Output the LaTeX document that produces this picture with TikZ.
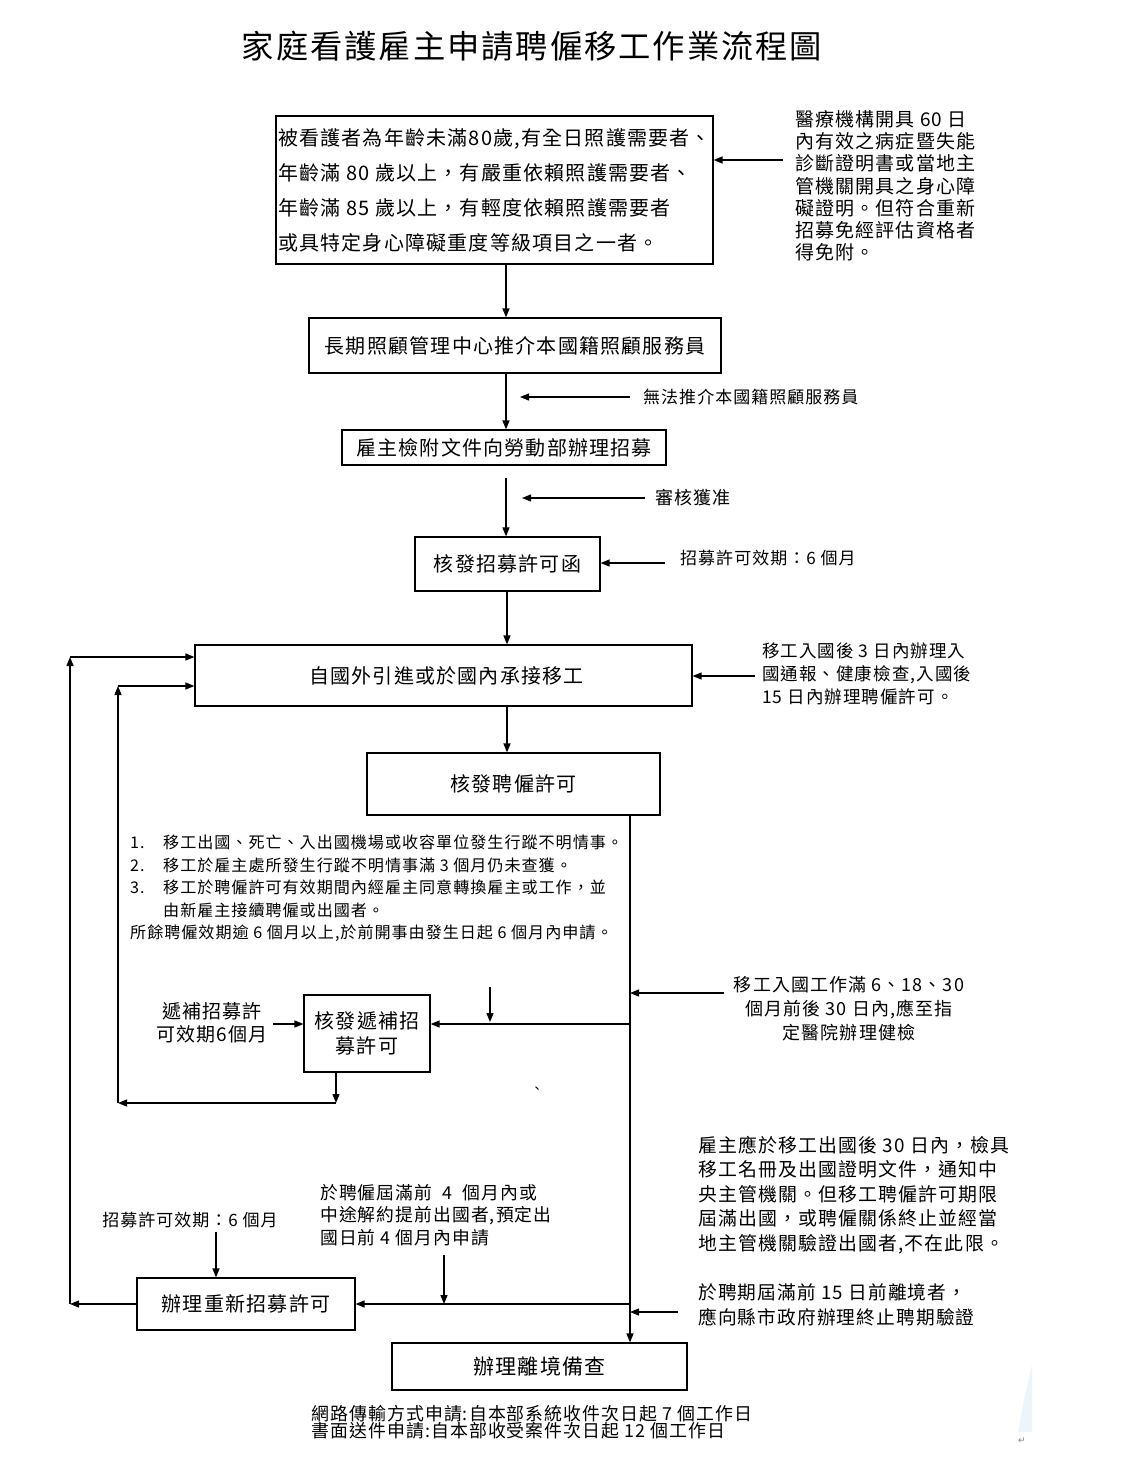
\documentclass[tikz,border=0pt]{standalone}
\usepackage{fontspec}
\setmainfont{Noto Sans CJK TC}[LetterSpace=6]
\newfontfamily\dejavu{DejaVu Sans}
\usetikzlibrary{arrows.meta}
\newcommand{\fsz}[2]{\fontsize{#1}{#2}\selectfont}
\definecolor{faintblue}{rgb}{0.93,0.96,0.99}
\begin{document}
\begin{tikzpicture}[x=1pt,y=-1pt,
  bx/.style={draw, line width=1.2pt, inner sep=0pt, align=center},
  arr/.style={-{Triangle[length=9pt,width=7pt]}, line width=1.3pt},
  ln/.style={line width=1.3pt},
  lbl/.style={inner sep=0pt},
  txt/.style={inner sep=0pt, align=left}]
\useasboundingbox (0,0) rectangle (1124,1461);
\fill[white] (0,0) rectangle (1124,1461);

% columns
\coordinate (colA) at (506,0);
\coordinate (colB) at (507,0);
\coordinate (colV) at (630,0);

% title
\node[lbl, font=\fsz{32.3}{36}] (title) at (532,46) {家庭看護雇主申請聘僱移工作業流程圖};

% box 1
\node[bx, minimum width=437pt, minimum height=148pt, align=left, font=\fsz{20}{35}] (b1) at (494.5,190)
 {被看護者為年齡未滿80歲,有全日照護需要者、\\年齡滿 80 歲以上，有嚴重依賴照護需要者、\\年齡滿 85 歲以上，有輕度依賴照護需要者\\或具特定身心障礙重度等級項目之一者。};

\node[txt, anchor=north west, font=\fsz{19}{22.3}] (n1) at (795,110)
 {醫療機構開具 60 日\\內有效之病症暨失能\\診斷證明書或當地主\\管機關開具之身心障\\礙證明。但符合重新\\招募免經評估資格者\\得免附。};
\coordinate (c1) at (783,160);
\draw[arr] (c1) -- (c1 -| b1.east);

% box 2
\node[bx, minimum width=412pt, minimum height=55pt, font=\fsz{20}{24}] (b2) at (515,345.5) {長期照顧管理中心推介本國籍照顧服務員};
\draw[arr] (b1.south -| colA) -- (b2.north -| colA);

% box 3
\node[bx, minimum width=324pt, minimum height=35pt, font=\fsz{20}{24}] (b3) at (504,447.5) {雇主檢附文件向勞動部辦理招募};
\draw[arr] (b2.south -| colA) -- (b3.north -| colA);
\node[lbl, anchor=west, font=\fsz{17}{20}] (l2) at (643,397) {無法推介本國籍照顧服務員};
\coordinate (a2s) at (630,397);
\coordinate (a2e) at (520,397);
\draw[arr] (a2s) -- (a2e);

% box 4
\node[bx, minimum width=185pt, minimum height=54pt, font=\fsz{20}{24}] (b4) at (507.5,564) {核發招募許可函};
\draw[arr] ([yshift=-12pt]b3.south -| colA) -- (b4.north -| colA);
\node[lbl, anchor=west, font=\fsz{18}{20}] (l3) at (655,498) {審核獲准};
\coordinate (a3s) at (645,498);
\coordinate (a3e) at (522,498);
\draw[arr] (a3s) -- (a3e);
\node[lbl, anchor=west, font=\fsz{17}{20}] (l4) at (680,558) {招募許可效期：6 個月};
\coordinate (c4) at (665,563);
\draw[arr] (c4) -- (c4 -| b4.east);

% box 5
\node[bx, minimum width=497pt, minimum height=61pt, font=\fsz{20}{24}] (b5) at (443.5,675.5) {\hspace*{6pt}自國外引進或於國內承接移工};
\draw[arr] (b4.south -| colB) -- (b5.north -| colB);
\node[txt, anchor=north west, font=\fsz{17.5}{23}] (n5) at (762,643)
 {移工入國後 3 日內辦理入\\國通報、健康檢查,入國後\\15 日內辦理聘僱許可。};
\coordinate (c5) at (755,676);
\draw[arr] (c5) -- (c5 -| b5.east);

% box 6
\node[bx, minimum width=293pt, minimum height=62pt, font=\fsz{20}{24}] (b6) at (513.5,784) {核發聘僱許可};
\draw[arr] (b5.south -| colB) -- (b6.north -| colB);

% box 9 (final)
\node[bx, minimum width=295pt, minimum height=47pt, font=\fsz{21}{24}] (b9) at (539.5,1366.5) {辦理離境備查};
\draw[arr] (b6.south -| colV) -- (b9.north -| colV);

% list text
\node[txt, anchor=north west, font=\fsz{16.1}{22.5}] (list) at (130,835)
 {\makebox[33pt][l]{1.}移工出國、死亡、入出國機場或收容單位發生行蹤不明情事。\\
  \makebox[33pt][l]{2.}移工於雇主處所發生行蹤不明情事滿 3 個月仍未查獲。\\
  \makebox[33pt][l]{3.}移工於聘僱許可有效期間內經雇主同意轉換雇主或工作，並\\
  \hspace*{33pt}由新雇主接續聘僱或出國者。\\
  所餘聘僱效期逾 6 個月以上,於前開事由發生日起 6 個月內申請。};

% health check note
\node[lbl, align=center, font=\fsz{18}{24}] (n6) at (849,1009)
 {移工入國工作滿 6、18、30\\個月前後 30 日內,應至指\\定醫院辦理健檢};
\coordinate (c6) at (724,993);
\draw[arr] (c6) -- (c6 -| colV);

% box 7
\node[bx, minimum width=126pt, minimum height=77pt, font=\fsz{20}{24.5}] (b7) at (367,1033.5) {核發遞補招\\募許可};
\coordinate (j7) at (630,1024);
\draw[arr] (j7) -- (j7 -| b7.east);
\coordinate (d7s) at (490,987);
\coordinate (d7e) at (490,1022);
\draw[arr] (d7s) -- (d7e);
\node[lbl, align=center, font=\fsz{19}{23}] (l7) at (212,1023) {遞補招募許\\可效期6個月};
\coordinate (c7) at (273,1024);
\draw[arr] (c7) -- (c7 -| b7.west);

% inner loop
\coordinate (r1) at (336,1103);
\coordinate (r2) at (118,1103);
\coordinate (r3) at (118,686);
\draw[arr] (b7.south -| r1) -- (r1);
\draw[arr] (r1) -- (r2);
\draw[arr] (r2) -- (r3);
\draw[arr] (r3) -- (r3 -| b5.west);

\node[lbl, font=\fsz{13}{14}] (tick) at (537,1090) {、};

% lower right note
\node[txt, anchor=north west, font=\fsz{18.9}{24.5}] (n8) at (698,1136)
 {雇主應於移工出國後 30 日內，檢具\\移工名冊及出國證明文件，通知中\\央主管機關。但移工聘僱許可期限\\屆滿出國，或聘僱關係終止並經當\\地主管機關驗證出國者,不在此限。};

% box 8
\node[bx, minimum width=218pt, minimum height=52pt, font=\fsz{20}{24}] (b8) at (246,1304) {辦理重新招募許可};
\draw[arr] (b8.east -| colV) -- (b8.east);
\coordinate (d8s) at (444,1255);
\draw[arr] (d8s) -- (d8s |- b8.east);
\node[txt, anchor=north west, font=\fsz{17.8}{22.5}] (l8) at (320,1184)
 {於聘僱屆滿前\ \ 4\ \ 個月內或\\中途解約提前出國者,預定出\\國日前 4 個月內申請};
\node[lbl, font=\fsz{17}{20}] (l8b) at (190,1220) {招募許可效期：6 個月};
\coordinate (d8b) at (216,1232);
\draw[arr] (d8b) -- (d8b |- b8.north);

% outer loop
\coordinate (o1) at (70,1304);
\coordinate (o2) at (70,657);
\draw[arr] (b8.west) -- (o1);
\draw[arr] (o1) -- (o2);
\draw[arr] (o2) -- (o2 -| b5.west);

% departure note
\node[txt, anchor=north west, font=\fsz{18.7}{25}] (n9) at (698,1283)
 {於聘期屆滿前 15 日前離境者，\\應向縣市政府辦理終止聘期驗證};
\coordinate (c9) at (678,1312);
\draw[arr] (c9) -- (c9 -| colV);

% bottom text
\node[txt, anchor=north west, font=\fsz{17.9}{17}] (foot) at (311,1405)
 {網路傳輸方式申請:自本部系統收件次日起 7 個工作日\\書面送件申請:自本部收受案件次日起 12 個工作日};

% faint decoration bottom right
\fill[faintblue] (1032,1365) -- (1032,1432) -- (1018,1432) -- (1024,1400) -- cycle;
\node[lbl, font=\dejavu\fontsize{9}{10}\selectfont, text=gray] (ret) at (1022,1441) {↵};
\end{tikzpicture}
\end{document}
